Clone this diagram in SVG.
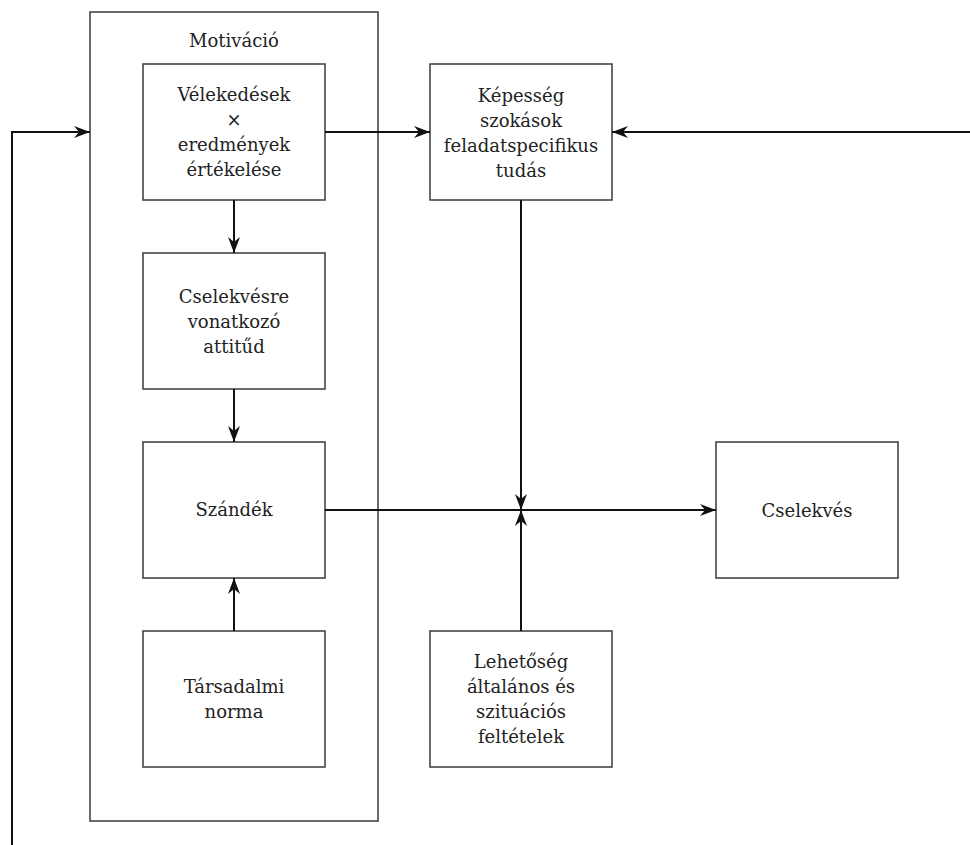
<svg xmlns="http://www.w3.org/2000/svg" width="970" height="845" viewBox="0 0 970 845">
<style>
.box{fill:#fff;stroke:#3a3a3a;stroke-width:1.5}
.frame{fill:none;stroke:#3a3a3a;stroke-width:1.5}
.t{font-family:'DejaVu Serif',serif;font-size:18px;fill:#222;text-anchor:middle}
.c{fill:none;stroke:#111;stroke-width:2}
</style>
<defs>
<marker id="ah" viewBox="0 0 16 12" refX="16" refY="6" markerWidth="16" markerHeight="12" markerUnits="userSpaceOnUse" orient="auto">
<path d="M0,0 L16,6 L0,12 L5,6 Z" fill="#111"/>
</marker>
</defs>
<g id="motivacio">
<rect class="frame" x="90" y="12" width="288" height="809"/>
<text class="t" x="234" y="47">Motiváció</text>
</g>
<g id="velekedesek">
<rect class="box" x="143" y="64" width="182" height="136"/>
<text class="t" x="234" y="101">Vélekedések</text>
<text class="t" x="234" y="126">×</text>
<text class="t" x="234" y="151">eredmények</text>
<text class="t" x="234" y="176">értékelése</text>
</g>
<g id="attitud">
<rect class="box" x="143" y="253" width="182" height="136"/>
<text class="t" x="234" y="303">Cselekvésre</text>
<text class="t" x="234" y="328">vonatkozó</text>
<text class="t" x="234" y="353">attitűd</text>
</g>
<g id="szandek">
<rect class="box" x="143" y="442" width="182" height="136"/>
<text class="t" x="234" y="516">Szándék</text>
</g>
<g id="norma">
<rect class="box" x="143" y="631" width="182" height="136"/>
<text class="t" x="234" y="693">Társadalmi</text>
<text class="t" x="234" y="718">norma</text>
</g>
<g id="kepesseg">
<rect class="box" x="430" y="64" width="182" height="136"/>
<text class="t" x="521" y="102">Képesség</text>
<text class="t" x="521" y="127">szokások</text>
<text class="t" x="521" y="152">feladatspecifikus</text>
<text class="t" x="521" y="177">tudás</text>
</g>
<g id="lehetoseg">
<rect class="box" x="430" y="631" width="182" height="136"/>
<text class="t" x="521" y="668">Lehetőség</text>
<text class="t" x="521" y="693">általános és</text>
<text class="t" x="521" y="718">szituációs</text>
<text class="t" x="521" y="743">feltételek</text>
</g>
<g id="cselekves">
<rect class="box" x="716" y="442" width="182" height="136"/>
<text class="t" x="807" y="517">Cselekvés</text>
</g>
<g id="connectors">
<path class="c" d="M12,845 L12,132 L90,132" marker-end="url(#ah)"/>
<path class="c" d="M325,132 L430,132" marker-end="url(#ah)"/>
<path class="c" d="M970,132 L612,132" marker-end="url(#ah)"/>
<path class="c" d="M234,200 L234,253" marker-end="url(#ah)"/>
<path class="c" d="M234,389 L234,442" marker-end="url(#ah)"/>
<path class="c" d="M234,631 L234,578" marker-end="url(#ah)"/>
<path class="c" d="M325,510 L716,510" marker-end="url(#ah)"/>
<path class="c" d="M521,200 L521,510" marker-end="url(#ah)"/>
<path class="c" d="M521,631 L521,510" marker-end="url(#ah)"/>
</g>
</svg>
